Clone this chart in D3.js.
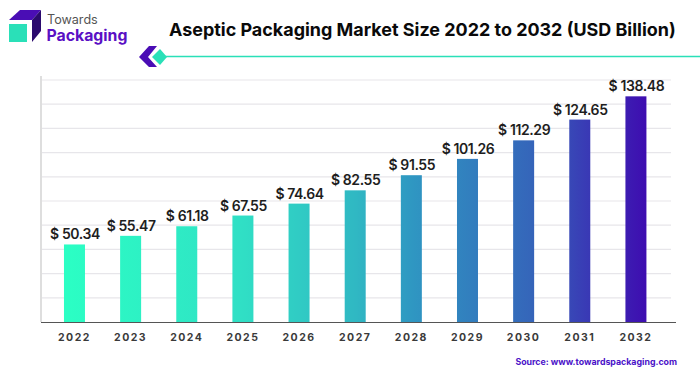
<!DOCTYPE html>
<html><head><meta charset="utf-8">
<script src="https://cdn.jsdelivr.net/npm/d3@7"></script>
<style>html,body{margin:0;padding:0;background:#fff}svg{display:block}text{font-family:Inter,sans-serif}</style>
</head><body><svg id="c" width="700" height="375"></svg>
<script>
const years=["2022","2023","2024","2025","2026","2027","2028","2029","2030","2031","2032"];
const values=[50.34,55.47,61.18,67.55,74.64,82.55,91.55,101.26,112.29,124.65,138.48];
const valueLabels=["$ 50.34","$ 55.47","$ 61.18","$ 67.55","$ 74.64","$ 82.55","$ 91.55","$ 101.26","$ 112.29","$ 124.65","$ 138.48"];
const gridValues=[18.6,33,47.4,61.8,76.2,90.6,105,119.4,133.8,148.2];
const gradientColors=["#2bffc4","#30e0c5","#30b8c3","#2f96c2","#3566ba","#3e0cb0"];
const gradientOffsets=[0,0.3,0.5,0.6,0.8,1];

const svg=d3.select("#c");
const x=d3.scaleBand().domain(years).range([46.4,664]).paddingInner(0.626).paddingOuter(0.313);
const y=d3.scaleLinear().domain([4.2,148.2]).range([322,80]);

const defs=svg.append("defs");
const g=defs.append("linearGradient").attr("id","barGrad").attr("gradientUnits","userSpaceOnUse")
 .attr("x1",64).attr("x2",647).attr("y1",0).attr("y2",0);
gradientColors.forEach((c,i)=>g.append("stop").attr("offset",gradientOffsets[i]).attr("stop-color",c));

// grid
svg.append("g").selectAll("line").data(gridValues).join("line")
 .attr("x1",41).attr("x2",671).attr("y1",d=>y(d)).attr("y2",d=>y(d))
 .attr("stroke","#e7e6ea").attr("stroke-width",1.2);
svg.append("line").attr("x1",41).attr("x2",41).attr("y1",76).attr("y2",322).attr("stroke","#dedede").attr("stroke-width",2);

// bars
svg.append("g").selectAll("rect").data(values).join("rect")
 .attr("x",(d,i)=>x(years[i])).attr("width",x.bandwidth())
 .attr("y",d=>y(d)).attr("height",d=>322-y(d)).attr("fill","url(#barGrad)");

// baseline
svg.append("line").attr("x1",41).attr("x2",676).attr("y1",322.5).attr("y2",322.5).attr("stroke","#555").attr("stroke-width",1.2);

// value labels
svg.append("g").selectAll("text").data(values).join("text")
 .attr("x",(d,i)=>x(years[i])+x.bandwidth()/2+0.5).attr("y",d=>y(d)-5)
 .attr("text-anchor","middle").attr("font-size",14).attr("font-weight",600).attr("letter-spacing",-0.4).attr("fill","#1e1e1e")
 .text((d,i)=>valueLabels[i]);

// year labels
svg.append("g").selectAll("text").data(years).join("text")
 .attr("x",d=>x(d)+x.bandwidth()/2).attr("y",340.5)
 .attr("text-anchor","middle").attr("font-size",10.5).attr("font-weight",700).attr("letter-spacing",1.5).attr("fill","#3a3a3a")
 .text(d=>d);

// title
svg.append("text").attr("x",169).attr("y",36).attr("font-size",17.95).attr("font-weight",700).attr("fill","#0a0a0a")
 .text("Aseptic Packaging Market Size 2022 to 2032 (USD Billion)");

// logo
svg.append("path").attr("d","M9 20L20 10H41L32 20Z").attr("fill","#4a0db5");
svg.append("path").attr("d","M32 20L41 10V31L32 42Z").attr("fill","#2b0a6e");
svg.append("rect").attr("x",9).attr("y",24).attr("width",18).attr("height",18).attr("fill","#2ae0b8");
svg.append("text").attr("x",47).attr("y",24).attr("font-size",12.6).attr("font-weight",400).attr("fill","#555").text("Towards");
svg.append("text").attr("x",46.5).attr("y",41).attr("font-size",15.8).attr("font-weight",700).attr("fill","#5a10c4").text("Packaging");

// decoration
svg.append("path").attr("d","M139 57L149 46H157L148 57L157 67H149Z").attr("fill","#4a0db5");
svg.append("path").attr("d","M152 57L160 49L167 57L160 65Z").attr("fill","#2ae0b8");
svg.append("line").attr("x1",165).attr("x2",700).attr("y1",56.5).attr("y2",56.5).attr("stroke","#2ae0b8").attr("stroke-width",1.6);

// source
svg.append("text").attr("x",677).attr("y",365).attr("text-anchor","end").attr("font-size",8.8).attr("font-weight",700).attr("fill","#4a12c8")
 .text("Source: www.towardspackaging.com");
</script></body></html>
